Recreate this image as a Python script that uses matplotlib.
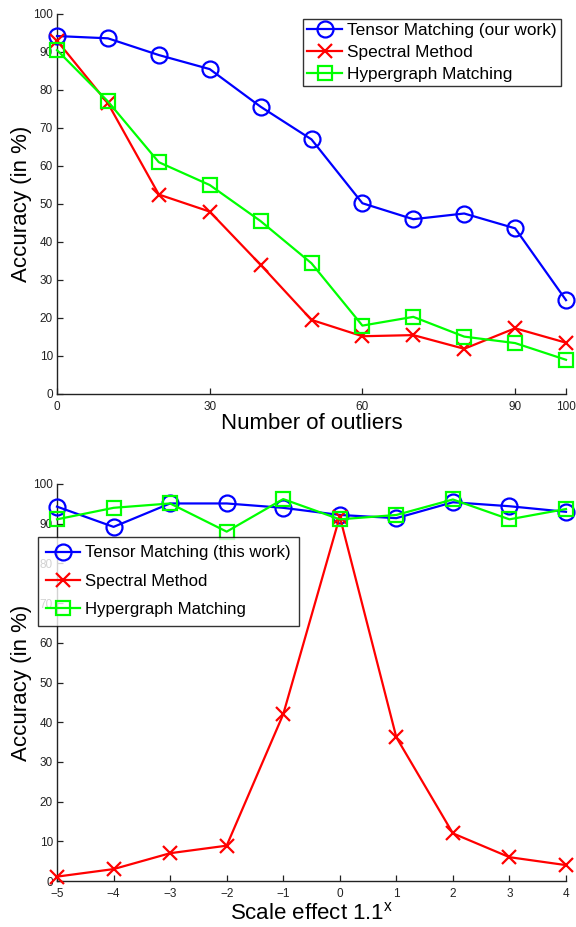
import numpy as np
import matplotlib
matplotlib.use('Agg')
import matplotlib.pyplot as plt

plt.rcParams['font.family'] = ['Liberation Sans', 'DejaVu Sans']

# top panel: accuracy vs number of outliers
outliers = [0, 10, 20, 30, 40, 50, 60, 70, 80, 90, 100]
tensor_out = [94.2, 93.6, 89.2, 85.5, 75.6, 67.0, 50.2, 46.0, 47.5, 43.6, 24.7]
spectral_out = [93.0, 76.5, 52.5, 48.0, 34.0, 19.5, 15.2, 15.5, 11.9, 17.3, 13.5]
hyper_out = [90.5, 77.0, 61.0, 55.0, 45.5, 34.4, 18.0, 20.3, 15.1, 13.4, 9.0]
outlier_ticks = [0, 30, 60, 90, 100]

# bottom panel: accuracy vs scale exponent
scale = [-5, -4, -3, -2, -1, 0, 1, 2, 3, 4]
tensor_sc = [94.3, 89.2, 95.1, 95.1, 94.0, 92.2, 91.4, 95.4, 94.4, 93.0]
spectral_sc = [1.1, 3.0, 7.0, 8.9, 42.0, 91.8, 36.2, 12.0, 6.0, 4.0]
hyper_sc = [91.1, 94.0, 95.1, 88.0, 96.2, 91.1, 92.2, 96.1, 91.1, 93.7]

fig = plt.figure(figsize=(5.76, 9.27), dpi=100)
W, H = 576.0, 927.0
ax1 = fig.add_axes([57 / W, 1 - 394 / H, 509 / W, 380 / H])
ax2 = fig.add_axes([57 / W, 1 - 881 / H, 509 / W, 397 / H])

style = dict(lw=1.6, clip_on=False, zorder=3)


def draw(ax, x, t, s, h, tlabel):
    ax.plot(x, t, color='#0000ff', marker='o', ms=11.5, mfc='none', mew=1.6,
            label=tlabel, **style)
    ax.plot(x, s, color='#ff0000', marker='x', ms=10, mew=1.6,
            label='Spectral Method', **style)
    ax.plot(x, h, color='#00ff00', marker='s', ms=10, mfc='none', mew=1.6,
            label='Hypergraph Matching', **style)
    for side in ['top', 'right']:
        ax.spines[side].set_visible(False)
    for side in ['left', 'bottom']:
        ax.spines[side].set_linewidth(1.0)
        ax.spines[side].set_color('#222222')
    ax.tick_params(direction='in', length=4, width=0.9, labelsize=8.5,
                   colors='#222222', pad=3)
    ax.tick_params(axis='x', pad=5)
    ax.set_ylim(0, 100)
    ax.set_yticks(np.arange(0, 101, 10))
    ax.set_ylabel('Accuracy (in %)', fontsize=16)
    # right edge of the rotated label sits about 29 px left of the axis
    ax.yaxis.set_label_coords(-25 / 509, 0.5)


draw(ax1, outliers, tensor_out, spectral_out, hyper_out, 'Tensor Matching (our work)')
ax1.set_xlim(0, 100)
ax1.set_xticks(outlier_ticks)
ax1.set_xlabel('Number of outliers', fontsize=16, labelpad=0)
leg1 = ax1.legend(loc='upper right', bbox_to_anchor=(561 / W, 1 - 19 / H),
                  bbox_transform=fig.transFigure, fontsize=12.4, frameon=True,
                  fancybox=False, handlelength=2.0, handletextpad=0.3,
                  borderpad=0.25, labelspacing=0.38, borderaxespad=0)
leg1.get_frame().set_edgecolor('black')
leg1.get_frame().set_linewidth(1.0)

draw(ax2, scale, tensor_sc, spectral_sc, hyper_sc, 'Tensor Matching (this work)')
ax2.set_xlim(-5, 4)
ax2.set_xticks(scale)
ax2.set_xticklabels([('\u2212%d' % -v) if v < 0 else str(v) for v in scale])
ax2.set_xlabel('Scale effect 1.1$^{\\mathregular{x}}$', fontsize=16, labelpad=2)
leg2 = ax2.legend(loc='upper left', bbox_to_anchor=(38 / W, 1 - 537 / H),
                  bbox_transform=fig.transFigure, fontsize=12.1, frameon=True,
                  fancybox=False, handlelength=2.0, handletextpad=0.3,
                  borderpad=0.5, labelspacing=0.8, borderaxespad=0)
leg2.get_frame().set_edgecolor('black')
leg2.get_frame().set_linewidth(1.0)
leg2.set_zorder(5)

fig.savefig('out.png', dpi=100)
